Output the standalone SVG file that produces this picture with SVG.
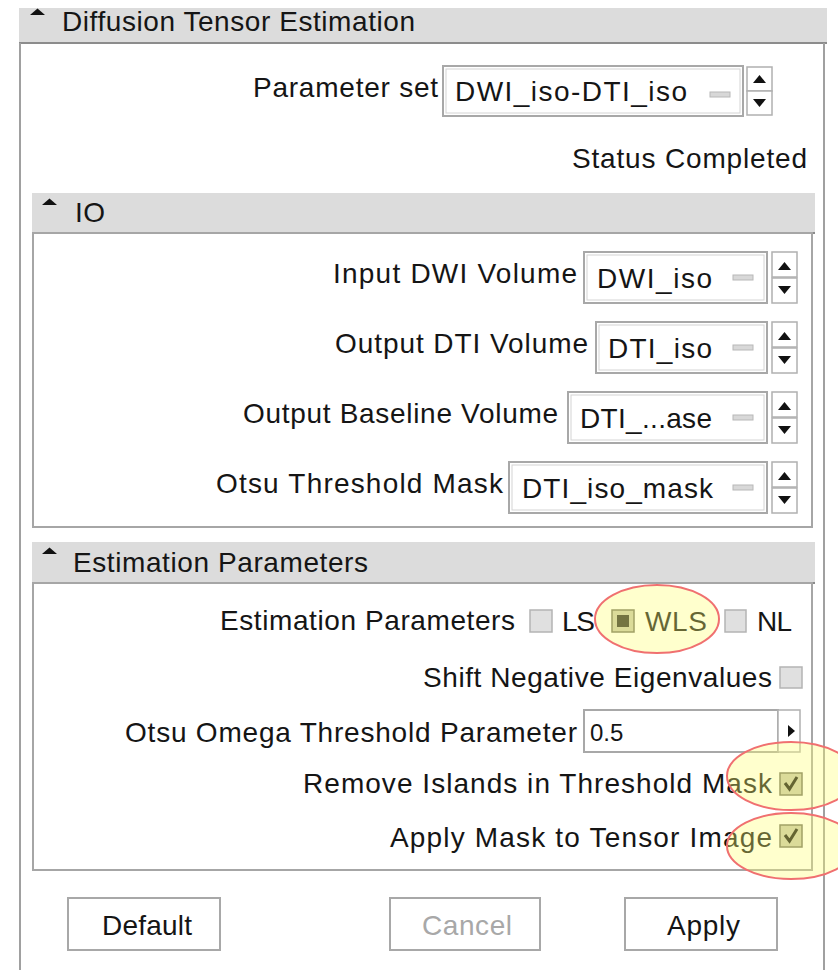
<svg xmlns="http://www.w3.org/2000/svg" width="838" height="970" viewBox="0 0 838 970">
<style>
.t{font-family:"Liberation Sans",Arial,sans-serif;font-size:28px;fill:#151515}
.hdr{fill:#dcdcdc}
.hl{stroke:#8c8c8c;stroke-width:2}
.panel{fill:none;stroke:#a6a6a6;stroke-width:2}
.combo{fill:#fff;stroke:#a8a8a8;stroke-width:2}
.cin{fill:none;stroke:#d4d4d4;stroke-width:1}
.spin{fill:#fff;stroke:#b0b0b0;stroke-width:1.5}
.dash{fill:#d8d8d8;stroke:#b8b8b8;stroke-width:1}
.cb{fill:#e0e0e0;stroke:#b4b4b4;stroke-width:1.5}
.cbon{fill:#c8c8b0;stroke:#707060;stroke-width:1.5}
.btn{fill:#fff;stroke:#a8a8a8;stroke-width:2}
.hi{fill:#ffff70;fill-opacity:0.35;stroke:#f07070;stroke-width:2}
</style>
<rect width="838" height="970" fill="#fff"/>

<g id="outer-panel">
  <rect class="hdr" x="19" y="8" width="808" height="35"/>
  <line class="hl" x1="19" y1="43" x2="827" y2="43"/>
  <path d="M30 15 L37.5 8.5 L45 15 Z" fill="#111"/>
  <text class="t" x="62" y="31" textLength="353">Diffusion Tensor Estimation</text>
  <line x1="20" y1="43" x2="20" y2="970" stroke="#a0a0a0" stroke-width="2"/>
  <line x1="824" y1="43" x2="824" y2="970" stroke="#a0a0a0" stroke-width="2"/>
</g>

<g id="parameter-set">
  <text class="t" x="253" y="97" textLength="185">Parameter set</text>
  <rect class="combo" x="443" y="66" width="300" height="50"/>
  <rect class="cin" x="446" y="69" width="294" height="44"/>
  <text class="t" x="455" y="101" textLength="232">DWI_iso-DTI_iso</text>
  <rect class="dash" x="710" y="92" width="20" height="5"/>
  <rect class="spin" x="747" y="67" width="25" height="24"/>
  <rect class="spin" x="747" y="91" width="25" height="24"/>
  <path d="M753 83 L759.5 75 L766 83 Z" fill="#111"/>
  <path d="M753 99 L759.5 107 L766 99 Z" fill="#111"/>
</g>

<g id="status">
  <text class="t" x="572" y="168" textLength="235">Status  Completed</text>
</g>

<g id="io-panel">
  <rect class="hdr" x="32" y="193" width="783" height="40"/>
  <line class="hl" x1="32" y1="233" x2="815" y2="233"/>
  <path d="M42 205 L49.5 198.5 L57 205 Z" fill="#111"/>
  <text class="t" x="75" y="222" textLength="30">IO</text>
  <rect class="panel" x="33" y="233" width="779" height="294"/>
</g>

<g id="input-dwi">
  <text class="t" x="333" y="283" textLength="244">Input DWI Volume</text>
  <rect class="combo" x="584" y="252" width="183" height="51"/>
  <rect class="cin" x="587" y="255" width="177" height="45"/>
  <text class="t" x="597" y="288" textLength="115">DWI_iso</text>
  <rect class="dash" x="733" y="275" width="20" height="5"/>
  <rect class="spin" x="772" y="252" width="25" height="25"/>
  <rect class="spin" x="772" y="278" width="25" height="25"/>
  <path d="M778 270 L784.5 262 L791 270 Z" fill="#111"/>
  <path d="M778 286 L784.5 294 L791 286 Z" fill="#111"/>
</g>

<g id="output-dti">
  <text class="t" x="335" y="353" textLength="253">Output DTI Volume</text>
  <rect class="combo" x="596" y="322" width="171" height="51"/>
  <rect class="cin" x="599" y="325" width="165" height="45"/>
  <text class="t" x="608" y="358" textLength="104">DTI_iso</text>
  <rect class="dash" x="733" y="345" width="20" height="5"/>
  <rect class="spin" x="772" y="322" width="25" height="25"/>
  <rect class="spin" x="772" y="348" width="25" height="25"/>
  <path d="M778 340 L784.5 332 L791 340 Z" fill="#111"/>
  <path d="M778 356 L784.5 364 L791 356 Z" fill="#111"/>
</g>

<g id="output-baseline">
  <text class="t" x="243" y="423" textLength="315">Output Baseline Volume</text>
  <rect class="combo" x="568" y="392" width="199" height="51"/>
  <rect class="cin" x="571" y="395" width="193" height="45"/>
  <text class="t" x="580" y="428" textLength="132">DTI_...ase</text>
  <rect class="dash" x="733" y="415" width="20" height="5"/>
  <rect class="spin" x="772" y="392" width="25" height="25"/>
  <rect class="spin" x="772" y="418" width="25" height="25"/>
  <path d="M778 410 L784.5 402 L791 410 Z" fill="#111"/>
  <path d="M778 426 L784.5 434 L791 426 Z" fill="#111"/>
</g>

<g id="otsu-mask">
  <text class="t" x="216" y="493" textLength="287">Otsu Threshold Mask</text>
  <rect class="combo" x="509" y="462" width="258" height="51"/>
  <rect class="cin" x="512" y="465" width="252" height="45"/>
  <text class="t" x="522" y="498" textLength="191">DTI_iso_mask</text>
  <rect class="dash" x="733" y="485" width="20" height="5"/>
  <rect class="spin" x="772" y="462" width="25" height="25"/>
  <rect class="spin" x="772" y="488" width="25" height="25"/>
  <path d="M778 480 L784.5 472 L791 480 Z" fill="#111"/>
  <path d="M778 496 L784.5 504 L791 496 Z" fill="#111"/>
</g>

<g id="estimation-panel">
  <rect class="hdr" x="32" y="542" width="783" height="41"/>
  <line class="hl" x1="32" y1="583" x2="815" y2="583"/>
  <path d="M42 554 L49.5 547.5 L57 554 Z" fill="#111"/>
  <text class="t" x="73" y="572" textLength="295">Estimation Parameters</text>
  <rect class="panel" x="33" y="583" width="779" height="287"/>
</g>

<g id="estimation-method">
  <text class="t" x="220" y="630" textLength="295">Estimation Parameters</text>
  <rect class="cb" x="530" y="610" width="22" height="22"/>
  <text class="t" x="562" y="631" textLength="33">LS</text>
  <rect class="cbon" x="612" y="610" width="22" height="22"/>
  <rect x="617" y="615" width="12" height="12" fill="#2a2a2a"/>
  <text class="t" x="645" y="631" textLength="62">WLS</text>
  <rect class="cb" x="725" y="610" width="21" height="22"/>
  <text class="t" x="757" y="631" textLength="35">NL</text>
</g>

<g id="shift-negative">
  <text class="t" x="423" y="687" textLength="349">Shift Negative Eigenvalues</text>
  <rect class="cb" x="780" y="667" width="22" height="21"/>
</g>

<g id="otsu-omega">
  <text class="t" x="125" y="742" textLength="452">Otsu Omega Threshold Parameter</text>
  <rect class="combo" x="584" y="710" width="194" height="42"/>
  <text class="t" x="590" y="741" style="font-size:24px">0.5</text>
  <rect class="spin" x="778" y="710" width="22" height="42"/>
  <path d="M788 725 L795 731 L788 737 Z" fill="#111"/>
</g>

<g id="remove-islands">
  <text class="t" x="303" y="793" textLength="469">Remove Islands in Threshold Mask</text>
  <rect class="cbon" x="780" y="773" width="22" height="22"/>
  <path d="M785 783 L789.5 789 L797 777" fill="none" stroke="#111" stroke-width="3"/>
</g>

<g id="apply-mask">
  <text class="t" x="390" y="847" textLength="382">Apply Mask to Tensor Image</text>
  <rect class="cbon" x="780" y="825" width="22" height="22"/>
  <path d="M785 835 L789.5 841 L797 829" fill="none" stroke="#111" stroke-width="3"/>
</g>

<g id="highlights">
  <ellipse class="hi" cx="657" cy="619" rx="62" ry="34"/>
  <ellipse class="hi" cx="791" cy="776" rx="64" ry="34"/>
  <ellipse class="hi" cx="791" cy="846" rx="64" ry="33"/>
</g>

<g id="btn-default">
  <rect class="btn" x="68" y="898" width="152" height="52"/>
  <text class="t" x="102" y="935" textLength="90">Default</text>
</g>
<g id="btn-cancel">
  <rect class="btn" x="390" y="898" width="150" height="52"/>
  <text class="t" x="422" y="935" textLength="90" style="fill:#a8a8a8">Cancel</text>
</g>
<g id="btn-apply">
  <rect class="btn" x="625" y="898" width="152" height="52"/>
  <text class="t" x="667" y="935" textLength="73">Apply</text>
</g>
</svg>
